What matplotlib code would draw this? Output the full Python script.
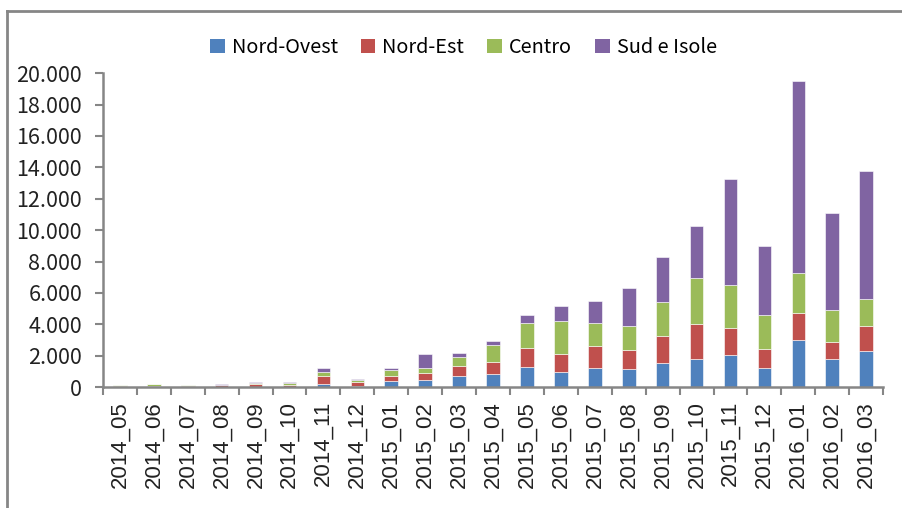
import numpy as np
import matplotlib.pyplot as plt
from matplotlib.patches import Patch
from matplotlib.lines import Line2D
from matplotlib.ticker import FuncFormatter

# monthly counts by macro-area
months = ["2014_05", "2014_06", "2014_07", "2014_08", "2014_09", "2014_10",
          "2014_11", "2014_12", "2015_01", "2015_02", "2015_03", "2015_04",
          "2015_05", "2015_06", "2015_07", "2015_08", "2015_09", "2015_10",
          "2015_11", "2015_12", "2016_01", "2016_02", "2016_03"]
nord_ovest = [10, 10, 5, 10, 20, 30, 170, 40, 360, 465, 680, 810,
              1270, 960, 1230, 1130, 1510, 1780, 2060, 1210, 2970, 1800, 2270]
nord_est = [40, 60, 80, 120, 200, 110, 530, 260, 320, 410, 680, 760,
            1190, 1140, 1400, 1250, 1760, 2210, 1720, 1190, 1760, 1080, 1640]
centro = [70, 100, 40, 30, 30, 100, 235, 170, 400, 360, 570, 1080,
          1640, 2100, 1440, 1530, 2150, 2950, 2740, 2190, 2570, 2060, 1680]
sud_isole = [30, 40, 25, 50, 90, 100, 300, 20, 130, 870, 240, 280,
             490, 960, 1400, 2380, 2850, 3310, 6730, 4400, 12190, 6120, 8150]

series = [("Nord-Ovest", nord_ovest, "#4F81BD"),
          ("Nord-Est", nord_est, "#C0504D"),
          ("Centro", centro, "#9BBB59"),
          ("Sud e Isole", sud_isole, "#8064A2")]

axis_grey = "#868686"
label_font = ["Noto Sans CJK KR", "DejaVu Sans"]

fig = plt.figure(figsize=(9.03, 5.08), dpi=100)
ax = fig.add_axes([0.114, 0.238, 0.864, 0.618])

x = np.arange(len(months))
bottom = np.zeros(len(months))
for name, vals, color in series:
    vals = np.array(vals, dtype=float)
    ax.bar(x, vals, width=0.4, bottom=bottom, color=color,
           edgecolor="white", linewidth=0.4, label=name)
    bottom += vals

ax.set_xlim(-0.5, len(months) - 0.5)
ax.set_ylim(0, 20000)
ax.set_yticks(np.arange(0, 20001, 2000))
ax.yaxis.set_major_formatter(
    FuncFormatter(lambda v, p: f"{int(v):,}".replace(",", ".")))
for lbl in ax.get_yticklabels():
    lbl.set_fontfamily(label_font)
    lbl.set_fontsize(15.5)
    lbl.set_color("#222222")

# category labels centred, tick marks on the boundaries
ax.set_xticks(x)
ax.set_xticklabels(months, rotation=90, fontsize=16,
                   fontfamily="Liberation Sans", color="#222222")
ax.set_xticks(np.arange(len(months) + 1) - 0.5, minor=True)
ax.tick_params(axis="x", which="major", length=0, pad=10)
ax.tick_params(axis="x", which="minor", length=6, width=1.5,
               color=axis_grey, direction="out")
ax.tick_params(axis="y", length=6, width=1.5, color=axis_grey,
               direction="out", pad=9)

for side in ["top", "right"]:
    ax.spines[side].set_visible(False)
for side in ["left", "bottom"]:
    ax.spines[side].set_color(axis_grey)
    ax.spines[side].set_linewidth(1.8)

handles = [Patch(facecolor=c, edgecolor="none") for _, _, c in series]
fig.legend(handles, [s[0] for s in series], loc="center",
           bbox_to_anchor=(0.513, 0.907), ncol=4, frameon=False,
           prop={"family": label_font, "size": 14.3},
           handlelength=0.75, handleheight=0.75, handletextpad=0.35,
           columnspacing=1.15)

# chart-area border (only top and left edges fall inside the image)
fig.add_artist(Line2D([0.008, 1.0], [0.978, 0.978], transform=fig.transFigure,
                      color=axis_grey, linewidth=2))
fig.add_artist(Line2D([0.008, 0.008], [0.0, 0.978], transform=fig.transFigure,
                      color=axis_grey, linewidth=2))

fig.savefig("out.png", dpi=100)
